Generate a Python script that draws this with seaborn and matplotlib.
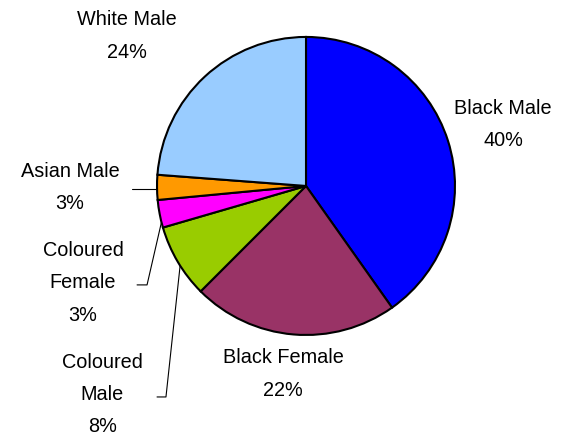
import numpy as np
import matplotlib
matplotlib.use("Agg")
import matplotlib.pyplot as plt
import seaborn as sns

sns.set_theme(style="white")
plt.rcParams['font.family'] = ['Liberation Sans', 'DejaVu Sans']

categories = ["Black Male", "Black Female", "Coloured Male", "Coloured Female", "Asian Male", "White Male"]
values = [40.2, 22.3, 8.0, 3.0, 2.7, 23.8]
colors = ["#0000FF", "#993366", "#99CC00", "#FF00FF", "#FF9900", "#99CCFF"]

# label layout (data coords, pie radius = 1)
label_pos = {
    "Black Male": (1.322, 0.413),
    "Black Female": (-0.154, -1.262),
    "Coloured Male": (-1.366, -1.400),
    "Coloured Female": (-1.497, -0.651),
    "Asian Male": (-1.584, -0.010),
    "White Male": (-1.201, 1.007),
}
label_text = {
    "Black Male": "Black Male\n{}%",
    "Black Female": "Black Female\n{}%",
    "Coloured Male": "Coloured\nMale\n{}%",
    "Coloured Female": "Coloured\nFemale\n{}%",
    "Asian Male": "Asian Male\n{}%",
    "White Male": "White Male\n{}%",
}
# leader lines: (start x, y, kink x or None, fraction along wedge from its upper edge)
leaders = {
    "Asian Male": (-1.168, -0.02, None, None),
    "Coloured Female": (-1.134, -0.664, -1.067, 0.2),
    "Coloured Male": (-1.0, -1.416, -0.94, 0.44),
}

fig = plt.figure(figsize=(5.77, 4.36), dpi=100)
ax = fig.add_axes([0, 0, 1, 1])
wedges, _ = ax.pie(values, colors=colors, startangle=90, counterclock=False,
                   wedgeprops=dict(edgecolor="black", linewidth=1.5))
ax.set_xlim(-2.054, 1.819)
ax.set_ylim(-1.678, 1.248)
ax.set_aspect('auto')
ax.axis('off')

total = sum(values)
for cat, v, w in zip(categories, values, wedges):
    x, y = label_pos[cat]
    ax.text(x, y, label_text[cat].format(int(round(v / total * 100))),
            ha='center', va='center', fontsize=14.3, linespacing=1.88, color='black')
    if cat in leaders:
        sx, sy, kx, f = leaders[cat]
        if f is None:
            ex, ey = -np.sqrt(1 - sy ** 2), sy
        else:
            t1, t2 = sorted([w.theta1, w.theta2])
            ang = np.deg2rad(t2 - f * (t2 - t1))
            ex, ey = np.cos(ang), np.sin(ang)
        if kx is None:
            ax.plot([sx, ex], [sy, ey], color='black', lw=0.8)
        else:
            ax.plot([sx, kx, ex], [sy, sy, ey], color='black', lw=0.8)

fig.savefig("out.png", dpi=100, facecolor='white')
